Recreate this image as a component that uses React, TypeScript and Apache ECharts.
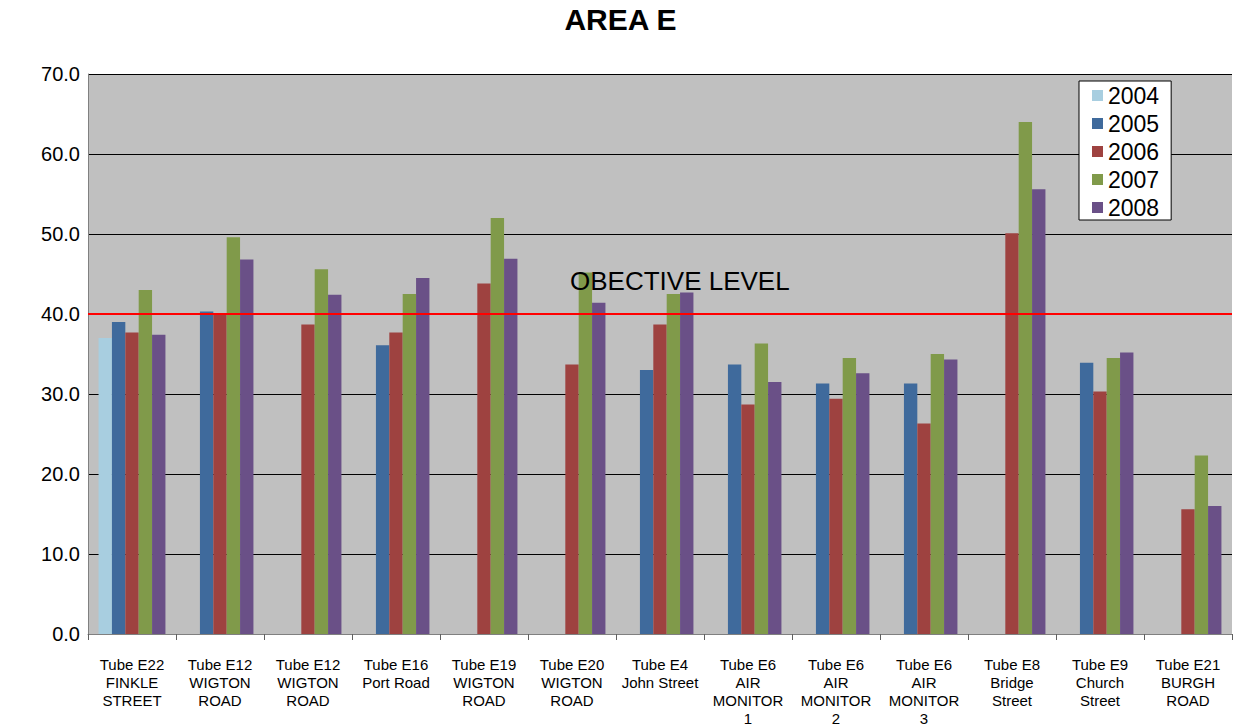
import React, { useEffect, useRef } from "react";
import * as echarts from "echarts";

const categories = [
  "Tube E22\nFINKLE\nSTREET",
  "Tube E12\nWIGTON\nROAD",
  "Tube E12\nWIGTON\nROAD",
  "Tube E16\nPort Road",
  "Tube E19\nWIGTON\nROAD",
  "Tube E20\nWIGTON\nROAD",
  "Tube E4\nJohn Street",
  "Tube E6\nAIR\nMONITOR\n1",
  "Tube E6\nAIR\nMONITOR\n2",
  "Tube E6\nAIR\nMONITOR\n3",
  "Tube E8\nBridge\nStreet",
  "Tube E9\nChurch\nStreet",
  "Tube E21\nBURGH\nROAD",
];

const years = ["2004", "2005", "2006", "2007", "2008"];
const colors = ["#A8CEE0", "#3F6A9C", "#9E4240", "#809A4A", "#6A5087"];

const v2004 = [37.0, null, null, null, null, null, null, null, null, null, null, null, null];
const v2005 = [39.0, 40.3, null, 36.1, null, null, 33.0, 33.7, 31.3, 31.3, null, 33.9, null];
const v2006 = [37.7, 40.1, 38.7, 37.7, 43.8, 33.7, 38.7, 28.7, 29.4, 26.3, 50.1, 30.3, 15.6];
const v2007 = [43.0, 49.6, 45.6, 42.5, 52.0, 45.2, 42.5, 36.3, 34.5, 35.0, 64.0, 34.5, 22.3];
const v2008 = [37.4, 46.8, 42.4, 44.5, 46.9, 41.4, 42.7, 31.5, 32.6, 34.3, 55.6, 35.2, 16.0];

const seriesValues = [v2004, v2005, v2006, v2007, v2008];
const objectiveLevel = 40;
const objectiveLabel = "OBECTIVE LEVEL";

export default function App() {
  const ref = useRef<HTMLDivElement>(null);
  useEffect(() => {
    if (!ref.current) return;
    const chart = echarts.init(ref.current, null, { renderer: "svg" });
    const series: any[] = years.map((y, i) => ({
      name: y,
      type: "bar",
      data: seriesValues[i],
      itemStyle: { color: colors[i] },
      barGap: "0%",
      barCategoryGap: "24%",
    }));
    series[0].markLine = {
      silent: true,
      symbol: "none",
      label: { show: false },
      lineStyle: { color: "#FF0000", width: 2, type: "solid" },
      data: [{ yAxis: objectiveLevel }],
    };
    chart.setOption({
      animation: false,
      backgroundColor: "#FFFFFF",
      title: {
        text: "AREA E",
        left: "center",
        top: 4,
        padding: 0,
        textStyle: { fontFamily: "Liberation Sans, Arial", fontSize: 30, fontWeight: "bold", color: "#000" },
      },
      grid: { left: 88, right: 9, top: 74, bottom: 93, backgroundColor: "#C0C0C0", show: true, borderWidth: 0 },
      legend: {
        orient: "vertical",
        left: 1079,
        top: 81,
        backgroundColor: "#FFFFFF",
        borderColor: "#000000",
        borderWidth: 1,
        borderRadius: 0,
        padding: [3, 12, 1, 13],
        itemWidth: 11,
        itemHeight: 11,
        itemGap: 5,
        icon: "rect",
        data: years,
        textStyle: { fontFamily: "Liberation Sans, Arial", fontSize: 23, color: "#000" },
      },
      xAxis: {
        type: "category",
        data: categories,
        axisLine: { lineStyle: { color: "#808080" } },
        axisTick: { show: true, length: 6, interval: 0, lineStyle: { color: "#606060" } },
        axisLabel: {
          interval: 0,
          margin: 21,
          fontFamily: "Liberation Sans, Arial",
          fontSize: 15,
          lineHeight: 18,
          color: "#000",
        },
      },
      yAxis: {
        type: "value",
        min: 0,
        max: 70,
        interval: 10,
        axisLine: { show: true, lineStyle: { color: "#808080" } },
        axisTick: { show: false },
        splitLine: { lineStyle: { color: "#000000", width: 1 } },
        axisLabel: {
          formatter: (v: number) => v.toFixed(1),
          fontFamily: "Liberation Sans, Arial",
          fontSize: 20,
          color: "#000",
          margin: 8,
        },
      },
      graphic: [
        {
          type: "text",
          left: 570,
          top: 268,
          style: { text: objectiveLabel, fontFamily: "Liberation Sans, Arial", fontSize: 26, fill: "#000" },
          z: 100,
        },
      ],
      series,
    });
    return () => chart.dispose();
  }, []);
  return <div ref={ref} style={{ position: "fixed", left: 0, top: 0, width: 1241, height: 727 }} />;
}
